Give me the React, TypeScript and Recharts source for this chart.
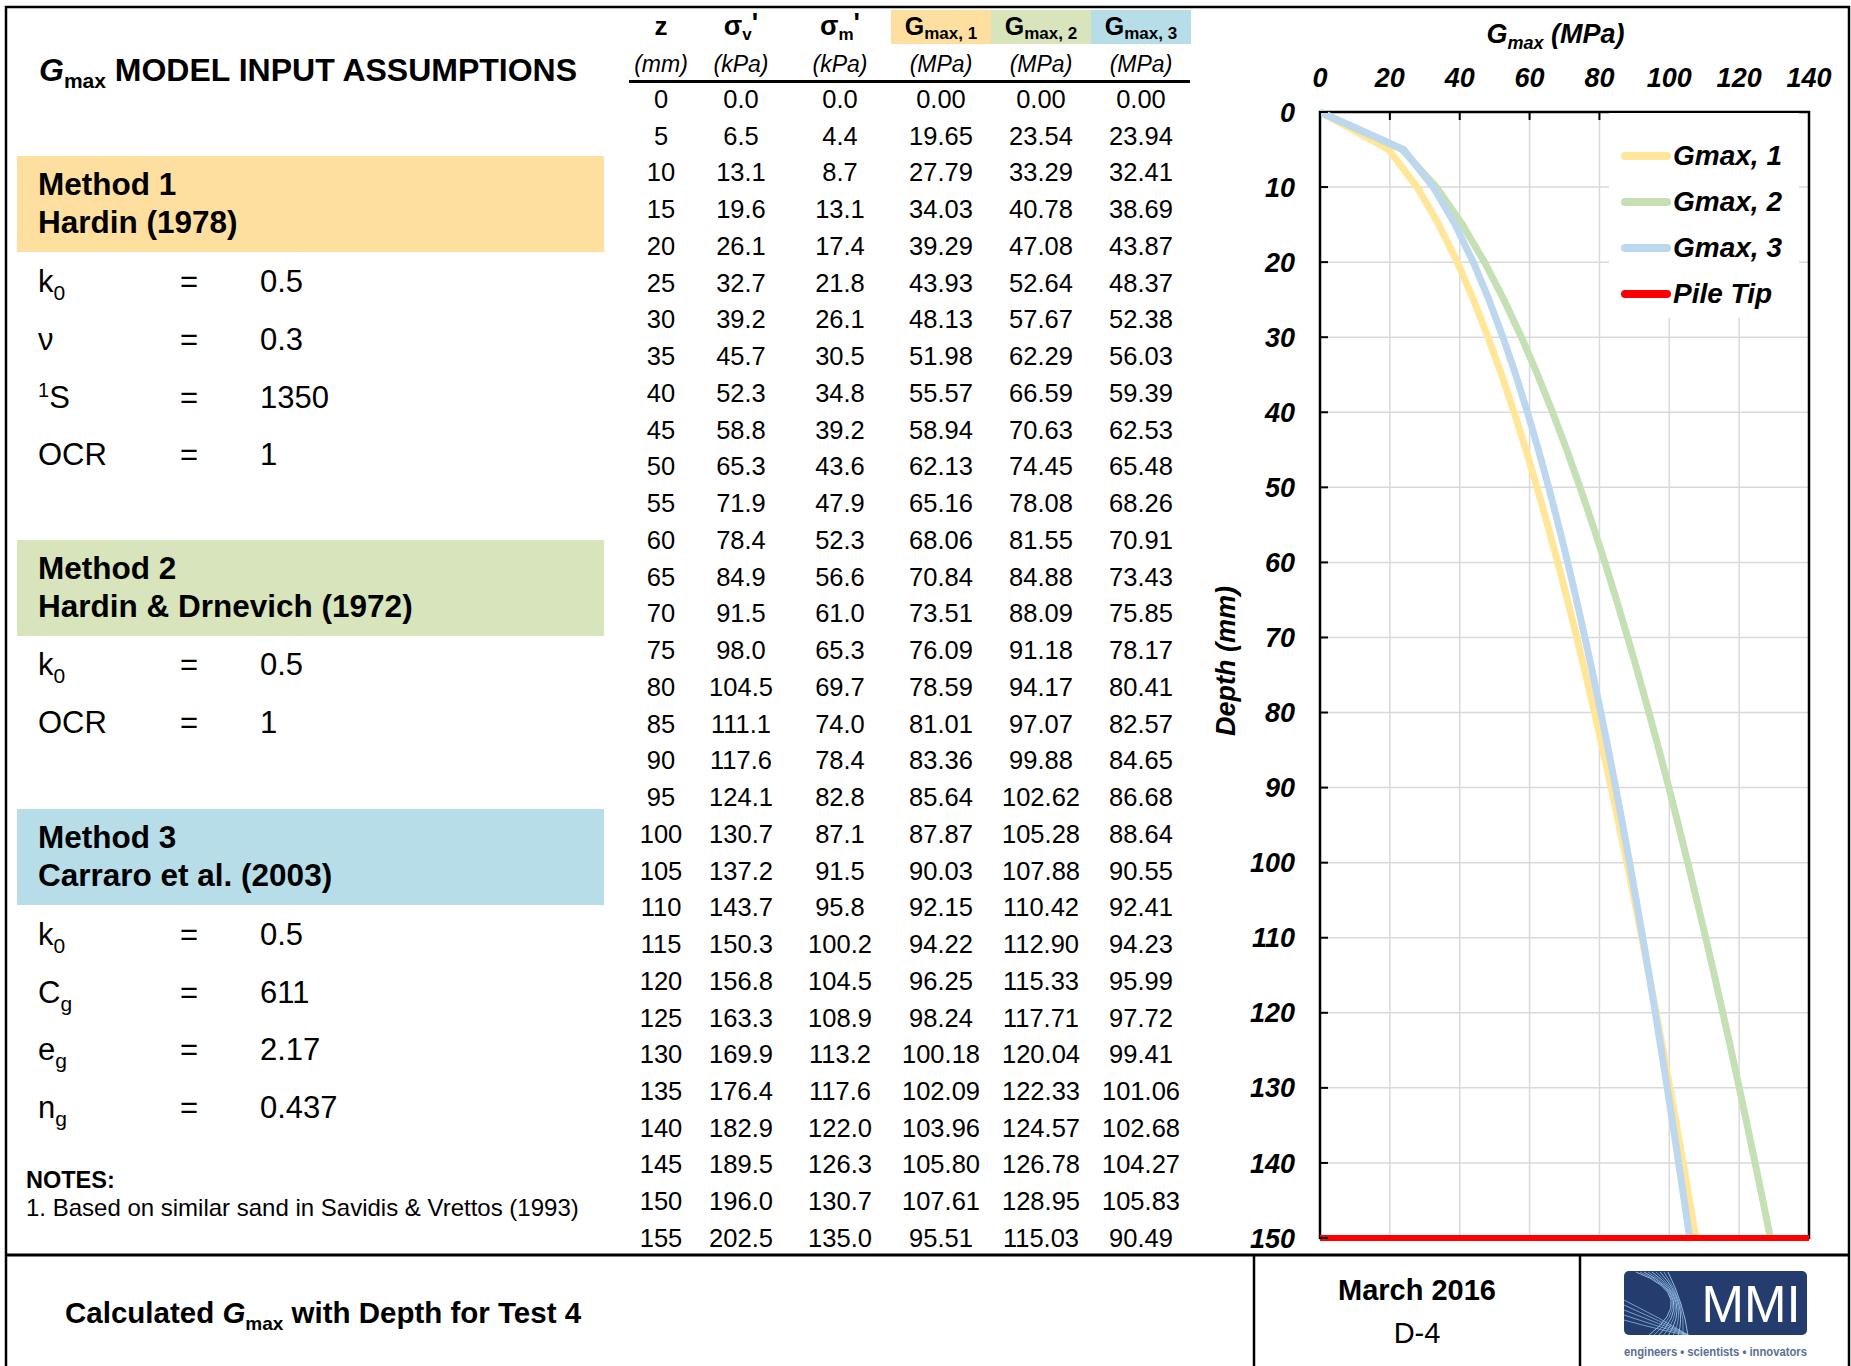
import React from "react"
import { LineChart, Line, XAxis, YAxis, CartesianGrid, Legend, ReferenceArea } from "recharts"

const FONT = '"Liberation Sans", Arial, Helvetica, sans-serif'

// depth (mm) and the calculated values per row
const depths = [0, 5, 10, 15, 20, 25, 30, 35, 40, 45, 50, 55, 60, 65, 70, 75, 80, 85, 90, 95, 100, 105, 110, 115, 120, 125, 130, 135, 140, 145, 150, 155]
const sigmaV = [0.0, 6.5, 13.1, 19.6, 26.1, 32.7, 39.2, 45.7, 52.3, 58.8, 65.3, 71.9, 78.4, 84.9, 91.5, 98.0, 104.5, 111.1, 117.6, 124.1, 130.7, 137.2, 143.7, 150.3, 156.8, 163.3, 169.9, 176.4, 182.9, 189.5, 196.0, 202.5]
const sigmaM = [0.0, 4.4, 8.7, 13.1, 17.4, 21.8, 26.1, 30.5, 34.8, 39.2, 43.6, 47.9, 52.3, 56.6, 61.0, 65.3, 69.7, 74.0, 78.4, 82.8, 87.1, 91.5, 95.8, 100.2, 104.5, 108.9, 113.2, 117.6, 122.0, 126.3, 130.7, 135.0]
const gmax1 = [0.0, 19.65, 27.79, 34.03, 39.29, 43.93, 48.13, 51.98, 55.57, 58.94, 62.13, 65.16, 68.06, 70.84, 73.51, 76.09, 78.59, 81.01, 83.36, 85.64, 87.87, 90.03, 92.15, 94.22, 96.25, 98.24, 100.18, 102.09, 103.96, 105.8, 107.61, 95.51]
const gmax2 = [0.0, 23.54, 33.29, 40.78, 47.08, 52.64, 57.67, 62.29, 66.59, 70.63, 74.45, 78.08, 81.55, 84.88, 88.09, 91.18, 94.17, 97.07, 99.88, 102.62, 105.28, 107.88, 110.42, 112.9, 115.33, 117.71, 120.04, 122.33, 124.57, 126.78, 128.95, 115.03]
const gmax3 = [0.0, 23.94, 32.41, 38.69, 43.87, 48.37, 52.38, 56.03, 59.39, 62.53, 65.48, 68.26, 70.91, 73.43, 75.85, 78.17, 80.41, 82.57, 84.65, 86.68, 88.64, 90.55, 92.41, 94.23, 95.99, 97.72, 99.41, 101.06, 102.68, 104.27, 105.83, 90.49]

const gmaxTicks = [0, 20, 40, 60, 80, 100, 120, 140]
const depthTicks = [0, 10, 20, 30, 40, 50, 60, 70, 80, 90, 100, 110, 120, 130, 140, 150]
const pileTipDepth = 150
const pileTipSpan = [0, 140]

const seriesNames = ["Gmax, 1", "Gmax, 2", "Gmax, 3", "Pile Tip"]
const seriesColors = ["#FFE699", "#C5E0B4", "#BDD7EE", "#FF0000"]

const methodColors = ["#FFDF9F", "#D8E4BC", "#B7DDE8"]

// the plot stops at the pile tip
const chartData = depths
  .map((z, i) => ({ z, g1: gmax1[i], g2: gmax2[i], g3: gmax3[i] }))
  .filter((d) => d.z <= pileTipDepth)
const pileTipData = pileTipSpan.map((g) => ({ z: pileTipDepth, tip: g }))

const colX = [661, 741, 840, 941, 1041, 1141]
const rowBase = (i: number) => 108 + 36.74 * i

function GmaxLabel(props: any) {
  const vb = props.viewBox
  return (
    <text x={vb.x + vb.width / 2 - 9} y={vb.y + 43} textAnchor="middle" fontFamily={FONT} fontSize={27} fontWeight={700} fontStyle="italic" fill="#000">
      G<tspan fontSize={18} dy={6}>max</tspan><tspan dy={-6}> (MPa)</tspan>
    </text>
  )
}

function DepthLabel(props: any) {
  const vb = props.viewBox
  const cy = vb.y + vb.height / 2 - 14
  return (
    <text transform={`translate(${vb.x + 35},${cy}) rotate(-90)`} textAnchor="middle" fontFamily={FONT} fontSize={27} fontWeight={700} fontStyle="italic" fill="#000">
      Depth (mm)
    </text>
  )
}

function renderLegend(props: any) {
  const items = props.payload || []
  return (
    <div style={{ background: "#fff", width: 190, height: 205, boxSizing: "border-box", paddingTop: 20 }}>
      {items.map((entry: any) => (
        <div key={entry.value} style={{ display: "flex", alignItems: "center", height: 46 }}>
          <span style={{ marginLeft: 12, width: 50, height: 8, borderRadius: 4, background: entry.color, display: "inline-block" }} />
          <span style={{ marginLeft: 2, fontFamily: FONT, fontSize: 28, fontWeight: 700, fontStyle: "italic", color: "#000" }}>{entry.value}</span>
        </div>
      ))}
    </div>
  )
}

function GmaxChart() {
  return (
    <LineChart width={640} height={1262} data={chartData} layout="vertical" margin={{ top: 0, right: 31, bottom: 24, left: 0 }}>
      <CartesianGrid stroke="#D9D9D9" strokeWidth={1.5} />
      <XAxis
        type="number"
        orientation="top"
        domain={[0, 140]}
        ticks={gmaxTicks}
        height={112}
        axisLine={false}
        tickSize={-8}
        tickMargin={33}
        tickLine={{ stroke: "#000", strokeWidth: 2 }}
        tick={{ fill: "#000", fontSize: 27, fontWeight: 700, fontStyle: "italic", fontFamily: FONT }}
        interval={0}
        label={GmaxLabel}
      />
      <YAxis
        type="number"
        dataKey="z"
        domain={[0, 150]}
        ticks={depthTicks}
        width={120}
        axisLine={false}
        tickSize={-8}
        tickMargin={33}
        tickLine={{ stroke: "#000", strokeWidth: 2 }}
        tick={{ fill: "#000", fontSize: 27, fontWeight: 700, fontStyle: "italic", fontFamily: FONT }}
        interval={0}
        label={DepthLabel}
      />
      <ReferenceArea x1={0} x2={140} y1={0} y2={150} fill="none" fillOpacity={0} stroke="#000" strokeWidth={2.5} />
      <Line dataKey="g1" name={seriesNames[0]} stroke={seriesColors[0]} strokeWidth={7} dot={false} activeDot={false} isAnimationActive={false} strokeLinejoin="round" />
      <Line dataKey="g2" name={seriesNames[1]} stroke={seriesColors[1]} strokeWidth={7} dot={false} activeDot={false} isAnimationActive={false} strokeLinejoin="round" />
      <Line dataKey="g3" name={seriesNames[2]} stroke={seriesColors[2]} strokeWidth={7} dot={false} activeDot={false} isAnimationActive={false} strokeLinejoin="round" />
      <Line data={pileTipData} dataKey="tip" name={seriesNames[3]} stroke={seriesColors[3]} strokeWidth={6} dot={false} activeDot={false} isAnimationActive={false} />
      <Legend
        layout="vertical"
        align="center"
        verticalAlign="middle"
        content={renderLegend}
        wrapperStyle={{ left: 409, top: 113, width: 190, height: 205 }}
      />
    </LineChart>
  )
}

function Param({ y, label, value }: { y: number; label: React.ReactNode; value: string }) {
  return (
    <g fontFamily={FONT} fontSize={31} fill="#000">
      <text x={38} y={y}>{label}</text>
      <text x={189} y={y} textAnchor="middle">=</text>
      <text x={260} y={y}>{value}</text>
    </g>
  )
}

const sub = (base: string, s: string) => (
  <>
    {base}
    <tspan fontSize={21} dy={8}>{s}</tspan>
  </>
)

function Sheet() {
  const methods = [
    { top: 156, title: "Method 1", ref: "Hardin (1978)" },
    { top: 540, title: "Method 2", ref: "Hardin & Drnevich (1972)" },
    { top: 809, title: "Method 3", ref: "Carraro et al. (2003)" },
  ]
  const gHeads = ["1", "2", "3"]
  return (
    <svg width={1851} height={1366} style={{ position: "absolute", left: 0, top: 0 }}>
      <rect x={0} y={0} width={1851} height={1366} fill="#fff" />
      {/* frame */}
      <rect x={6} y={7} width={1843} height={1420} fill="none" stroke="#000" strokeWidth={2.5} />
      <line x1={6} x2={1849} y1={1255} y2={1255} stroke="#000" strokeWidth={3} />
      <line x1={1254} x2={1254} y1={1255} y2={1366} stroke="#000" strokeWidth={2.5} />
      <line x1={1580} x2={1580} y1={1255} y2={1366} stroke="#000" strokeWidth={2.5} />

      {/* left panel */}
      <text x={39} y={81} fontFamily={FONT} fontSize={32} fontWeight={700} fill="#000">
        <tspan fontStyle="italic">G</tspan>
        <tspan fontSize={21} dy={7}>max</tspan>
        <tspan dy={-7}> MODEL INPUT ASSUMPTIONS</tspan>
      </text>
      {methods.map((m, i) => (
        <g key={m.title}>
          <rect x={17} y={m.top} width={587} height={96} fill={methodColors[i]} />
          <text x={38} y={m.top + 39} fontFamily={FONT} fontSize={31.5} fontWeight={700} fill="#000">{m.title}</text>
          <text x={38} y={m.top + 77} fontFamily={FONT} fontSize={31.5} fontWeight={700} fill="#000">{m.ref}</text>
        </g>
      ))}
      <Param y={292} label={sub("k", "0")} value="0.5" />
      <Param y={350} label="ν" value="0.3" />
      <Param y={408} label={<><tspan fontSize={20} dy={-11}>1</tspan><tspan dy={11}>S</tspan></>} value="1350" />
      <Param y={465} label="OCR" value="1" />
      <Param y={675} label={sub("k", "0")} value="0.5" />
      <Param y={733} label="OCR" value="1" />
      <Param y={945} label={sub("k", "0")} value="0.5" />
      <Param y={1003} label={sub("C", "g")} value="611" />
      <Param y={1060} label={sub("e", "g")} value="2.17" />
      <Param y={1118} label={sub("n", "g")} value="0.437" />
      <text x={26} y={1188} fontFamily={FONT} fontSize={23.5} fontWeight={700} fill="#000">NOTES:</text>
      <text x={26} y={1216} fontFamily={FONT} fontSize={24} fill="#000">1. Based on similar sand in Savidis &amp; Vrettos (1993)</text>

      {/* table header */}
      {gHeads.map((h, i) => (
        <rect key={h} x={891 + i * 100} y={10} width={100} height={34} fill={methodColors[i]} />
      ))}
      <g fontFamily={FONT} fontWeight={700} fill="#000" textAnchor="middle">
        <text x={colX[0]} y={35} fontSize={26}>z</text>
        <text x={colX[1]} y={35} fontSize={27}>σ<tspan fontSize={17} dy={5}>v</tspan><tspan dy={-8}>'</tspan></text>
        <text x={colX[2]} y={35} fontSize={27}>σ<tspan fontSize={17} dy={5}>m</tspan><tspan dy={-8}>'</tspan></text>
        {gHeads.map((h, i) => (
          <text key={h} x={colX[3 + i]} y={35} fontSize={25}>G<tspan fontSize={17} dy={4}>{`max, ${h}`}</tspan></text>
        ))}
      </g>
      <g fontFamily={FONT} fontStyle="italic" fontSize={23} fill="#000" textAnchor="middle">
        {["(mm)", "(kPa)", "(kPa)", "(MPa)", "(MPa)", "(MPa)"].map((u, i) => (
          <text key={i} x={colX[i]} y={72}>{u}</text>
        ))}
      </g>
      <line x1={629} x2={1190} y1={81.5} y2={81.5} stroke="#000" strokeWidth={3} />

      {/* table body */}
      <g fontFamily={FONT} fontSize={25.5} fill="#000" textAnchor="middle">
        {depths.map((z, i) => (
          <g key={z}>
            <text x={colX[0]} y={rowBase(i)}>{z}</text>
            <text x={colX[1]} y={rowBase(i)}>{sigmaV[i].toFixed(1)}</text>
            <text x={colX[2]} y={rowBase(i)}>{sigmaM[i].toFixed(1)}</text>
            <text x={colX[3]} y={rowBase(i)}>{gmax1[i].toFixed(2)}</text>
            <text x={colX[4]} y={rowBase(i)}>{gmax2[i].toFixed(2)}</text>
            <text x={colX[5]} y={rowBase(i)}>{gmax3[i].toFixed(2)}</text>
          </g>
        ))}
      </g>

      {/* footer */}
      <text x={65} y={1323} fontFamily={FONT} fontSize={29.5} fontWeight={700} fill="#000">
        Calculated <tspan fontStyle="italic">G</tspan>
        <tspan fontSize={19} dy={7}>max</tspan>
        <tspan dy={-7}> with Depth for Test 4</tspan>
      </text>
      <text x={1417} y={1300} textAnchor="middle" fontFamily={FONT} fontSize={29} fontWeight={700} fill="#000">March 2016</text>
      <text x={1417} y={1343} textAnchor="middle" fontFamily={FONT} fontSize={29} fill="#000">D-4</text>

      {/* logo */}
      <defs>
        <clipPath id="logoClip">
          <rect x={1624} y={1271} width={183} height={64} rx={5} />
        </clipPath>
      </defs>
      <rect x={1624} y={1271} width={183} height={64} rx={5} fill="#253D6E" />
      <g clipPath="url(#logoClip)" fill="none" strokeWidth={1}>
        {[0, 1, 2, 3, 4, 5, 6, 7, 8].map((k) => (
          <path key={k} d={`M${1636 + k * 4},1272 Q${1700 - k * 2},${1296 + k} ${1648 + k * 5},1336`} stroke={k % 2 ? "#7FB3E6" : "#B9D8F5"} opacity={0.8} />
        ))}
        {[0, 1, 2, 3, 4].map((k) => (
          <path key={"b" + k} d={`M1624,${1300 + k * 5} Q1660,${1318 + k * 3} 1690,1336`} stroke="#9CC6EE" opacity={0.7} />
        ))}
      </g>
      <text x={1751} y={1322} textAnchor="middle" fontFamily={FONT} fontSize={51} fill="#fff">MMI</text>
      <text x={1624} y={1356} textLength={183} lengthAdjust="spacingAndGlyphs" fontFamily={FONT} fontSize={12} fontWeight={700} fill="#5B6F95">
        engineers • scientists • innovators
      </text>
    </svg>
  )
}

export default function App() {
  return (
    <div style={{ position: "relative", width: 1851, height: 1366, overflow: "hidden", background: "#fff" }}>
      <style>{"body{margin:0}"}</style>
      <Sheet />
      <div style={{ position: "absolute", left: 1200, top: 0, width: 640, height: 1262 }}>
        <GmaxChart />
      </div>
    </div>
  )
}
